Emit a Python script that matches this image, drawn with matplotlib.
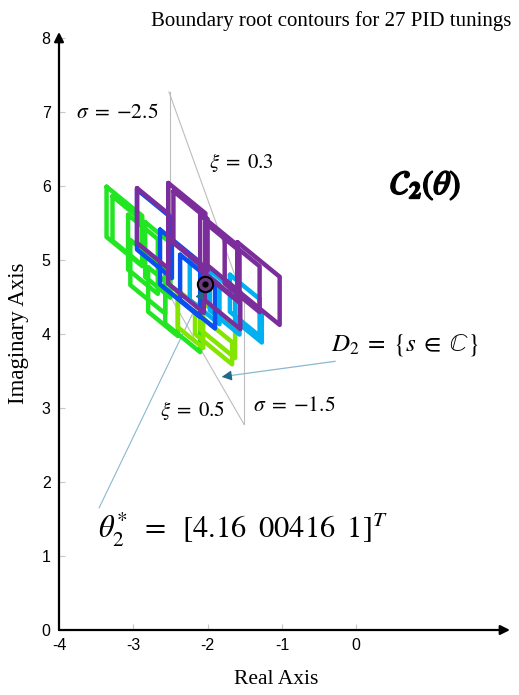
import numpy as np
import matplotlib.pyplot as plt
import matplotlib.patheffects as pe

plt.rcParams['mathtext.fontset'] = 'stix'

# contours: left x, top y, width, height (data units), grouped by colour
green_x = [-3.36, -3.28, -3.07, -2.84, -3.04, -2.80, -2.57]
green_y = [5.99, 5.86, 5.61, 5.51, 5.27, 4.90, 4.62]
green_w = [0.48, 0.42, 0.40, 0.34, 0.47, 0.40, 0.47]
green_h = [0.68, 0.60, 0.74, 0.74, 0.61, 0.60, 0.48]

lime_x = [-2.40, -2.10, -2.17]
lime_y = [4.59, 4.46, 4.30]
lime_w = [0.34, 0.47, 0.50]
lime_h = [0.50, 0.40, 0.30]

cyan_x = [-2.24, -1.97, -1.70, -1.63]
cyan_y = [5.00, 4.86, 4.80, 4.59]
cyan_w = [0.40, 0.40, 0.40, 0.36]
cyan_h = [0.54, 0.54, 0.50, 0.41]

blue_x = [-2.95, -2.64, -2.37]
blue_y = [5.95, 5.41, 5.07]
blue_w = [0.47, 0.54, 0.47]
blue_h = [0.81, 0.74, 0.61]

purple_x = [-2.95, -2.53, -2.46, -2.53, -2.10, -2.03, -2.03, -1.77, -1.60]
purple_y = [5.97, 6.04, 5.93, 5.30, 5.61, 5.50, 4.95, 5.30, 5.24]
purple_w = [0.42, 0.50, 0.46, 0.48, 0.50, 0.46, 0.47, 0.47, 0.57]
purple_h = [0.74, 0.74, 0.70, 0.62, 0.74, 0.70, 0.50, 0.62, 0.65]

slant = 0.82

theta_pt = (-2.035, 4.68)

# boundary of D2
sig1_x, sig2_x = -2.5, -1.51
xi3_line = [(-2.52, 7.27), (-1.51, 4.45)]
xi5_line = [(-1.51, 2.78), (-2.5, 4.50)]

fig = plt.figure(figsize=(5.19, 6.95), dpi=100)
ax = fig.add_axes([59/519, 65/695, 451/519, 599.5/695])
ax.set_xlim(-4, 2.07)
ax.set_ylim(0, 8.1)

gray = '#bdbdbd'
ax.plot([sig1_x, sig1_x], [xi5_line[1][1], xi3_line[0][1]], color=gray, lw=0.8)
ax.plot([sig2_x, sig2_x], [xi5_line[0][1], xi3_line[1][1]], color=gray, lw=0.8)
ax.plot(*zip(*xi3_line), color=gray, lw=0.8)
ax.plot(*zip(*xi5_line), color=gray, lw=0.8)


def draw(xs, ys, ws, hs, col):
    for x, y, w, h in zip(xs, ys, ws, hs):
        d = slant * w
        px = [x, x + w, x + w, x, x]
        py = [y, y - d, y - d - h, y - h, y]
        ax.plot(px, py, color=col, lw=3.2, solid_joinstyle='round',
                solid_capstyle='round')


draw(green_x, green_y, green_w, green_h, '#22e622')
draw(lime_x, lime_y, lime_w, lime_h, '#84e600')
draw(cyan_x, cyan_y, cyan_w, cyan_h, '#00b0f0')
draw(blue_x, blue_y, blue_w, blue_h, '#0a50f0')
draw(purple_x, purple_y, purple_w, purple_h, '#7b2d9b')

# theta* marker and pointers
line_c = '#8ab8d0'
head_c = '#1f6a8a'
ax.plot([-3.46, -2.07], [1.65, 4.55], color=line_c, lw=0.8, zorder=1)
ax.annotate('', xy=(-2.06, 4.59), xytext=(-2.12, 4.45),
            arrowprops=dict(arrowstyle='-|>', color=head_c, lw=0.8,
                            mutation_scale=13, shrinkA=0, shrinkB=0),
            zorder=4)
ax.plot(*theta_pt, 'o', ms=11, mfc='#6a3a80', mec='black', mew=1.5, zorder=5)
ax.plot(*theta_pt, 'o', ms=3.5, color='black', zorder=6)
ax.plot([-0.285, -1.75], [3.63, 3.43], color=line_c, lw=0.9)
ax.annotate('', xy=(-1.81, 3.42), xytext=(-1.70, 3.435),
            arrowprops=dict(arrowstyle='-|>', color=head_c, lw=0.8,
                            mutation_scale=15, shrinkA=0, shrinkB=0))

# axes with arrows
for s in ax.spines.values():
    s.set_visible(False)
ax.annotate('', xy=(2.07, 0), xytext=(-4, 0), annotation_clip=False,
            arrowprops=dict(arrowstyle='-|>', color='black', lw=1.6,
                            mutation_scale=14, shrinkA=0, shrinkB=0))
ax.annotate('', xy=(-4, 8.08), xytext=(-4, 0), annotation_clip=False,
            arrowprops=dict(arrowstyle='-|>', color='black', lw=1.6,
                            mutation_scale=14, shrinkA=0, shrinkB=0))

ax.set_xticks([-4, -3, -2, -1, 0])
ax.set_xticklabels(['-4', '-3', '-2', '-1', '0'], family='Liberation Sans')
ax.set_yticks(range(9))
ax.set_yticklabels([str(i) for i in range(9)], family='Liberation Sans')
ax.tick_params(direction='in', length=4, color='#c8c8c8', labelsize=11.5)
ax.tick_params(axis='x', pad=6)
ax.tick_params(axis='y', pad=6)

serif = 'Liberation Serif'
fig.text(0.638, 0.970, 'Boundary root contours for 27 PID tunings',
         ha='center', va='center', family=serif, fontsize=15)
fig.text(0.533, 0.022, 'Real Axis', ha='center', va='center',
         family=serif, fontsize=15.5)
fig.text(0.035, 0.521, 'Imaginary Axis', ha='center', va='center',
         rotation=90, family=serif, fontsize=16.5)

ax.text(-3.22, 7.00, r'$\sigma\;=\;{-}2.5$', fontsize=15.5, ha='center', va='center')
ax.text(-1.54, 6.31, r'$\xi\;=\;0.3$', fontsize=15, ha='center', va='center')
ax.text(-2.20, 2.97, r'$\xi\;=\;0.5$', fontsize=15, ha='center', va='center')
ax.text(-0.84, 3.04, r'$\sigma\;=\;{-}1.5$', fontsize=15.5, ha='center', va='center')
ax.text(0.66, 3.85, r'$D_2\;=\;\{s\;\in\;\mathbb{C}\}$', fontsize=18,
        ha='center', va='center')
ax.text(-1.52, 1.35, r'$\theta_2^{*}\;\;=\;\;[4.16\;\;00416\;\;1]^T$',
        fontsize=22, ha='center', va='center')
ax.text(0.93, 6.01, r'$\mathcal{C}_\mathbf{2}(\theta)$', fontsize=24,
        ha='center', va='center',
        path_effects=[pe.withStroke(linewidth=1.3, foreground='black')])

fig.savefig('out.png', dpi=100)
